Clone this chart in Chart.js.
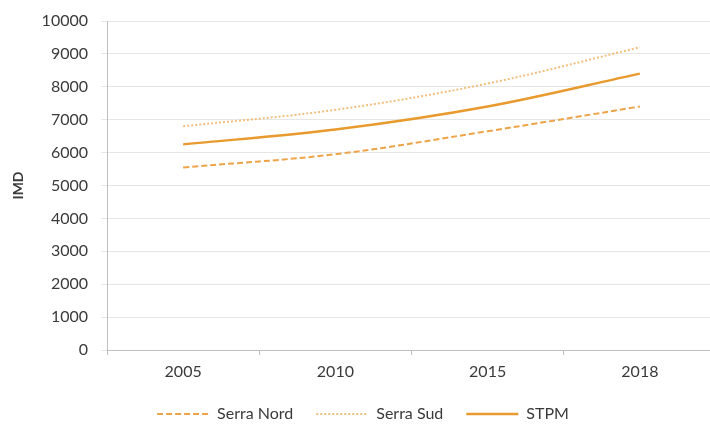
<!DOCTYPE html>
<html>
<head>
<meta charset="utf-8">
<script src="https://cdn.jsdelivr.net/npm/chart.js@4"></script>
<style>
html,body{margin:0;padding:0;background:#fff;overflow:hidden;}
#wrap{width:716px;height:440px;position:relative;}
</style>
</head>
<body>
<div id="wrap"><canvas id="c"></canvas></div>
<script>
const years = ['2005', '2010', '2015', '2018'];
const serraNord = [5550, 5950, 6650, 7400];
const serraSud = [6800, 7300, 8100, 9200];
const stpm = [6250, 6700, 7400, 8400];
const yTicks = [0, 1000, 2000, 3000, 4000, 5000, 6000, 7000, 8000, 9000, 10000];
const seriesNames = ['Serra Nord', 'Serra Sud', 'STPM'];

const font = "Lato, 'Open Sans', sans-serif";
new Chart(document.getElementById('c'), {
  type: 'line',
  data: {
    labels: years,
    datasets: [
      {label: seriesNames[0], data: serraNord, borderColor: '#EDA448', borderWidth: 2, borderDash: [6, 3], pointRadius: 0, tension: 0.35},
      {label: seriesNames[1], data: serraSud, borderColor: '#F3BE7C', borderWidth: 2, borderDash: [2, 2], pointRadius: 0, tension: 0.35},
      {label: seriesNames[2], data: stpm, borderColor: '#E99A2E', borderWidth: 2.5, pointRadius: 0, tension: 0.35}
    ]
  },
  options: {
    responsive: true,
    maintainAspectRatio: false,
    animation: false,
    layout: {padding: {left: 10, top: 4, right: 0, bottom: 8}},
    plugins: {
      tooltip: {enabled: false},
      legend: {
        position: 'bottom',
        labels: {
          usePointStyle: true,
          pointStyle: 'line',
          pointStyleWidth: 52,
          padding: 23,
          color: '#3A3A3A',
          font: {family: font, size: 16},
          generateLabels: (chart) => {
            const items = Chart.defaults.plugins.legend.labels.generateLabels(chart);
            items.forEach(it => {
              const ds = chart.data.datasets[it.datasetIndex];
              it.lineDash = ds.borderDash || [];
              it.lineWidth = ds.borderWidth;
              it.strokeStyle = ds.borderColor;
            });
            return items;
          }
        }
      }
    },
    scales: {
      x: {
        offset: true,
        afterFit: (s) => { s.height = 33; },
        grid: {offset: true, drawOnChartArea: false, drawTicks: true, tickLength: 5, color: '#BFBFBF'},
        border: {color: '#BFBFBF'},
        ticks: {color: '#3A3A3A', font: {family: font, size: 16}, padding: 7}
      },
      y: {
        min: 0, max: 10000,
        afterBuildTicks: (s) => { s.ticks = yTicks.map(v => ({value: v})); },
        afterFit: (s) => { s.width = 97; },
        grid: {color: '#E6E6E6', tickLength: 6},
        border: {color: '#BFBFBF'},
        ticks: {color: '#3A3A3A', font: {family: font, size: 16, lineHeight: 1}, padding: 13, callback: (v) => String(v)},
        title: {display: true, text: 'IMD', color: '#3A3A3A', font: {family: font, size: 14, weight: 'bold'}, padding: 0}
      }
    }
  }
});
</script>
</body>
</html>
